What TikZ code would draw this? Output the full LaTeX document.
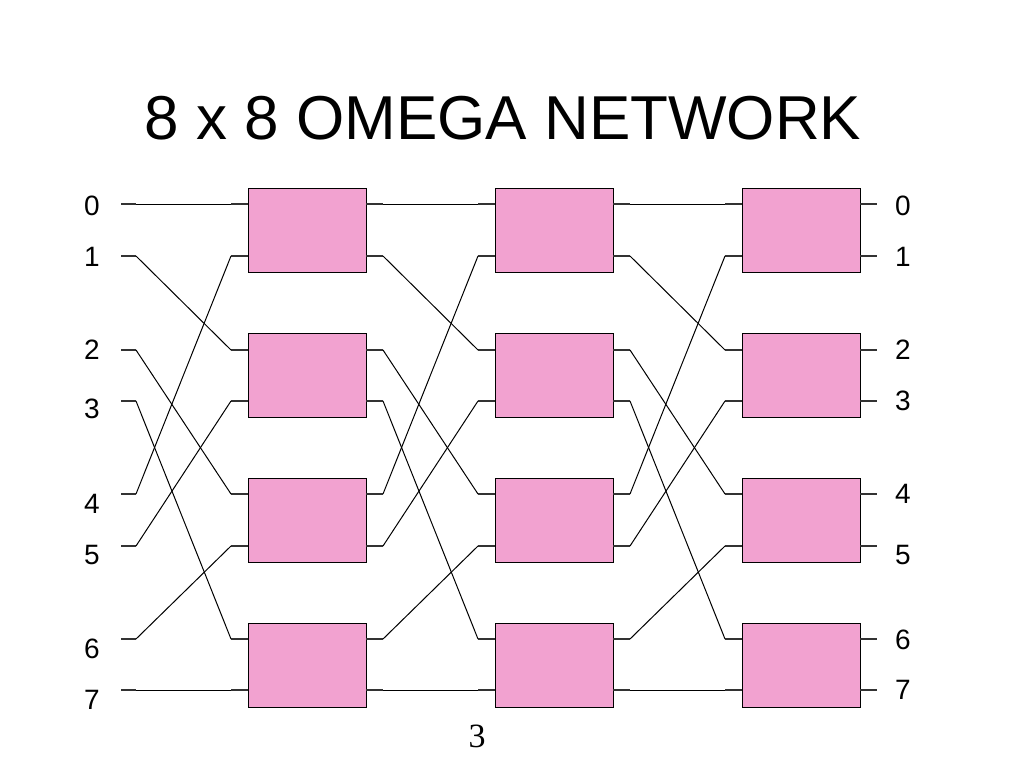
\documentclass[tikz,border=0pt]{standalone}
\usepackage{fontspec}
\setmainfont{Liberation Sans}
\newfontfamily\pagefont{Liberation Serif}
\definecolor{boxpink}{RGB}{242,162,208}
\begin{document}
\begin{tikzpicture}[x=1pt,y=-1pt,
  sw/.style={draw=black, line width=0.9pt, fill=boxpink, minimum width=118pt, minimum height=84pt, inner sep=0pt, outer sep=0pt},
  stub/.style={line width=1.5pt, draw=black!80},
  wire/.style={line width=1pt, draw=black},
  lbl/.style={font=\fontsize{28}{28}\selectfont, inner sep=0pt}]
\useasboundingbox (0,0) rectangle (1024,768);
\node[font=\fontsize{62}{62}\selectfont, inner sep=0pt] (title) at (503,118) {8 x 8 OMEGA NETWORK};
% switch boxes
\foreach \c/\L/\R in {1/248/366,2/495/613,3/742/860}{
  \foreach \r/\yc in {1/230,2/375,3/520,4/665}{
    \node[sw] (s\c-\r) at ({(\L+\R)/2},\yc) {};
  }
  \foreach \j/\y in {0/204,1/256,2/350,3/401,4/494,5/546,6/639,7/690}{
    \coordinate (l\c-\j) at ({\L-17},\y);
    \coordinate (a\c-\j) at (\L,\y);
    \coordinate (b\c-\j) at (\R,\y);
    \coordinate (r\c-\j) at ({\R+17},\y);
    \draw[stub] (l\c-\j) -- (a\c-\j);
    \draw[stub] (b\c-\j) -- (r\c-\j);
  }
}
% inputs
\foreach \j/\y/\ly in {0/204/206,1/256/257,2/350/350,3/401/409,4/494/504,5/546/555,6/639/649,7/690/700}{
  \node[lbl] (in\j) at (92,\ly) {\j};
  \coordinate (is\j) at (121,\y);
  \coordinate (ie\j) at (136,\y);
  \draw[stub] (is\j) -- (ie\j);
}
% outputs
\foreach \j/\ly in {0/206,1/257,2/350,3/401,4/494,5/555,6/640,7/690}{
  \node[lbl] (out\j) at (903,\ly) {\j};
}
% perfect shuffle wiring
\foreach \i/\j in {0/0,1/2,2/4,3/6,4/1,5/3,6/5,7/7}{
  \draw[wire] (ie\i) -- (l1-\j);
  \draw[wire] (r1-\i) -- (l2-\j);
  \draw[wire] (r2-\i) -- (l3-\j);
}
\node[font=\pagefont\fontsize{34}{34}\selectfont, inner sep=0pt] (page) at (477,736) {3};
\end{tikzpicture}
\end{document}
